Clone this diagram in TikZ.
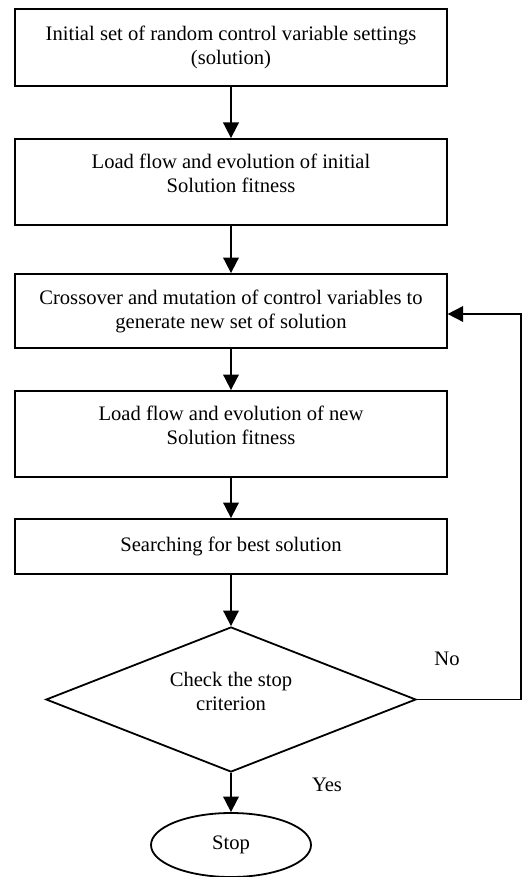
\documentclass[tikz,border=0pt]{standalone}
\usepackage{fontspec}
\setmainfont{Liberation Serif}
\usetikzlibrary{shapes.geometric,arrows.meta}
\begin{document}
\begin{tikzpicture}[line width=0.9pt, font=\fontsize{10.3}{12}\selectfont,
    box/.style = {draw, rectangle, minimum width=215.7pt, align=center, inner sep=0pt},
    decision/.style = {draw, diamond, aspect=2.55, minimum width=185pt, minimum height=72.5pt, inner sep=0pt, align=center},
    term/.style = {draw, ellipse, minimum width=80pt, minimum height=32pt, inner sep=0pt},
    arr/.style = {-{Triangle[length=7.8pt,width=7.8pt]}}]
    \useasboundingbox (0,0) rectangle (264pt,-438.5pt);
    \node[box, minimum height=38.5pt] (b1) at (115.5pt,-23.75pt) {Initial set of random control variable settings\\(solution)};
    \node[box, minimum height=43pt] (b2) [below of=b1, node distance=67.25pt] {Load flow and evolution of initial\\Solution fitness\rule[-9pt]{0pt}{1pt}};
    \node[box, minimum height=37pt] (b3) [below of=b2, node distance=64.5pt] {Crossover and mutation of control variables to\\generate new set of solution};
    \node[box, minimum height=43pt] (b4) [below of=b3, node distance=61.5pt] {Load flow and evolution of new\\Solution fitness\rule[-9pt]{0pt}{1pt}};
    \node[box, minimum height=27.5pt] (b5) [below of=b4, node distance=56.25pt] {Searching for best solution};
    \node[decision] (chk) [below of=b5, node distance=76.5pt] {Check the stop\\criterion\rule[-8pt]{0pt}{1pt}};
    \node[term] (stop) [below of=chk, node distance=72.75pt] {Stop};
    \node (no) at (223.5pt,-329.5pt) {No};
    \node (yes) at (163.5pt,-392.5pt) {Yes};
    \draw[arr] (b1) -- (b2);
    \draw[arr] (b2) -- (b3);
    \draw[arr] (b3) -- (b4);
    \draw[arr] (b4) -- (b5);
    \draw[arr] (b5) -- (chk);
    \draw[arr] (chk) -- (stop);
    \draw[arr] (chk.east) -- ++(52pt,0) |- ([yshift=-1.5pt]b3.east);
\end{tikzpicture}
\end{document}
